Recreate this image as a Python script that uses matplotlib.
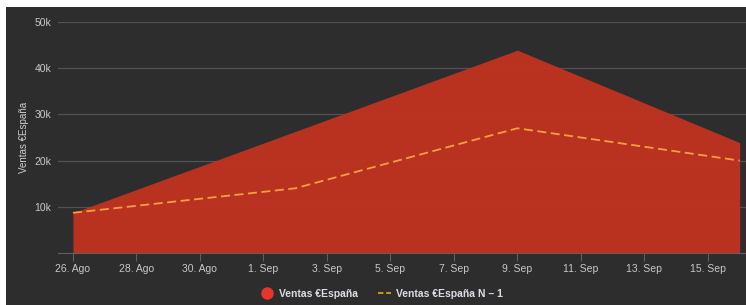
import matplotlib
matplotlib.use("Agg")
import matplotlib.pyplot as plt
from matplotlib.patches import Rectangle
from matplotlib.lines import Line2D

# days counted from 26 Aug
days = [0, 7, 14, 21]
ventas = [8700, 26300, 43900, 23900]
ventas_n1 = [8700, 14000, 27000, 20000]

tick_days = [0, 2, 4, 6, 8, 10, 12, 14, 16, 18, 20]
tick_labels = ["26. Ago", "28. Ago", "30. Ago", "1. Sep", "3. Sep", "5. Sep",
               "7. Sep", "9. Sep", "11. Sep", "13. Sep", "15. Sep"]
y_ticks = [10000, 20000, 30000, 40000, 50000]
y_labels = ["10k", "20k", "30k", "40k", "50k"]

bg = "#2d2d2d"
plt.rcParams["font.family"] = ["Liberation Sans", "DejaVu Sans"]

fig = plt.figure(figsize=(7.46, 3.05), dpi=100, facecolor="white")
fig.patches.append(Rectangle((6 / 746, 0), 1, (305 - 7) / 305, transform=fig.transFigure,
                             facecolor=bg, edgecolor="none", zorder=-5))

ax = fig.add_axes([58 / 746, 52 / 305, 688 / 746, 231 / 305])
ax.set_facecolor(bg)
ax.patch.set_alpha(0)

ax.fill_between(days, ventas, 0, color="#c3321f", alpha=0.94, lw=0, zorder=2)
ax.plot(days, ventas_n1, color="#f2a040", lw=1.3, ls=(0, (5, 2.5)), zorder=3)

ax.set_xlim(-0.47, 21.2)
ax.set_ylim(0, 50000)
ax.set_yticks(y_ticks)
ax.set_yticklabels(y_labels)
ax.set_xticks(tick_days)
ax.set_xticklabels(tick_labels)
ax.grid(axis="y", color="#525252", lw=0.9, zorder=1)
ax.set_axisbelow(True)

for s in ["top", "right", "left"]:
    ax.spines[s].set_visible(False)
ax.spines["bottom"].set_color("#606060")
ax.tick_params(axis="y", length=0, colors="#c8c8c8", labelsize=7.5, pad=5)
ax.tick_params(axis="x", length=6, width=0.8, color="#606060", colors="#c8c8c8",
               labelsize=7.5, pad=2)
ax.set_ylabel("Ventas €España", color="#d0d0d0", fontsize=7, labelpad=4)

handles = [
    Line2D([], [], marker="o", ls="none", color="#e8352a", markersize=8),
    Line2D([], [], color="#d8a020", lw=1.3, ls=(0, (3, 1.5))),
]
leg = fig.legend(handles, ["Ventas €España", "Ventas €España N – 1"], loc="center",
                 bbox_to_anchor=(382 / 746, 1 - 294 / 305), ncol=2, frameon=False,
                 handlelength=1.2, handletextpad=0.5, columnspacing=2.0, fontsize=7.5)
for t in leg.get_texts():
    t.set_color("#dcdce6")
    t.set_fontweight("bold")

fig.savefig("out.png", dpi=100, facecolor=fig.get_facecolor())
